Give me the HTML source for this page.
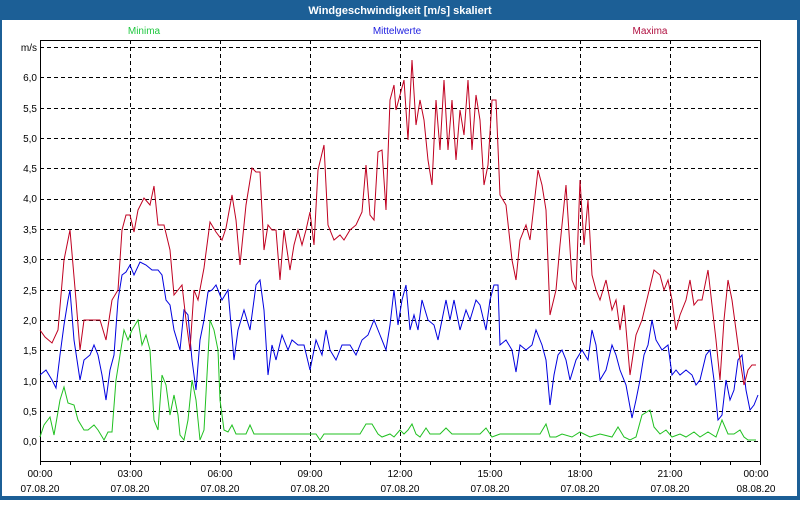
<!DOCTYPE html><html><head><style>body{margin:0;width:800px;height:500px;overflow:hidden;background:#fff;font-family:"Liberation Sans",sans-serif}</style></head><body>
<svg width="800" height="500" xmlns="http://www.w3.org/2000/svg" font-family="Liberation Sans, sans-serif">
<rect x="0" y="0" width="800" height="500" fill="#1c5f96"/>
<rect x="2" y="20" width="795" height="476" fill="#fff"/>
<text x="400" y="14" fill="#fff" font-size="11" font-weight="bold" text-anchor="middle">Windgeschwindigkeit [m/s] skaliert</text>
<text x="144" y="34" fill="#20c840" font-size="10" text-anchor="middle">Minima</text>
<text x="397" y="34" fill="#2020e0" font-size="10" text-anchor="middle">Mittelwerte</text>
<text x="650" y="34" fill="#b01040" font-size="10" text-anchor="middle">Maxima</text>
<g stroke="#000" stroke-width="1" stroke-dasharray="4,3" fill="none">
<path d="M40 47.5H760M40 77.5H760M40 108.5H760M40 138.5H760M40 168.5H760M40 199.5H760M40 229.5H760M40 259.5H760M40 290.5H760M40 320.5H760M40 350.5H760M40 381.5H760M40 411.5H760M40 441.5H760"/>
<path d="M130.5 40V461M220.5 40V461M310.5 40V461M400.5 40V461M490.5 40V461M580.5 40V461M670.5 40V461"/>
</g>
<path d="M40.5 40V461.5H760.5V40M40 40.5H760" stroke="#000" fill="none"/>
<path stroke="#000" d="M70.5 461v4M100.5 461v4M160.5 461v4M190.5 461v4M250.5 461v4M280.5 461v4M340.5 461v4M370.5 461v4M430.5 461v4M460.5 461v4M520.5 461v4M550.5 461v4M610.5 461v4M640.5 461v4M700.5 461v4M730.5 461v4M40.5 461v4M130.5 461v4M220.5 461v4M310.5 461v4M400.5 461v4M490.5 461v4M580.5 461v4M670.5 461v4M760.5 461v4"/>
<g font-size="10" fill="#000" text-anchor="end">
<text x="37" y="51">m/s</text><text x="37" y="81">6,0</text>
<text x="37" y="112">5,5</text><text x="37" y="142">5,0</text><text x="37" y="172">4,5</text><text x="37" y="202">4,0</text><text x="37" y="233">3,5</text><text x="37" y="263">3,0</text><text x="37" y="294">2,5</text><text x="37" y="324">2,0</text><text x="37" y="354">1,5</text><text x="37" y="385">1,0</text><text x="37" y="415">0,5</text><text x="37" y="445">0,0</text>
</g>
<g font-size="10" fill="#000" text-anchor="middle">
<text x="40" y="477">00:00</text><text x="40" y="492">07.08.20</text>
<text x="130" y="477">03:00</text><text x="130" y="492">07.08.20</text>
<text x="220" y="477">06:00</text><text x="220" y="492">07.08.20</text>
<text x="310" y="477">09:00</text><text x="310" y="492">07.08.20</text>
<text x="400" y="477">12:00</text><text x="400" y="492">07.08.20</text>
<text x="490" y="477">15:00</text><text x="490" y="492">07.08.20</text>
<text x="580" y="477">18:00</text><text x="580" y="492">07.08.20</text>
<text x="670" y="477">21:00</text><text x="670" y="492">07.08.20</text>
<text x="756" y="477">00:00</text><text x="756" y="492">08.08.20</text>
</g>
<polyline fill="none" stroke="#20c020" stroke-width="1" points="40,437 44,425 50,417 54,435 60,400 64,387 68,403 74,405 78,420 84,430 88,430 94,425 98,430 104,440 108,432 112,432 116,380 120,355 124,330 128,340 132,330 138,320 142,345 146,335 150,350 154,420 158,430 162,375 166,385 170,415 174,395 178,415 180,435 184,440 188,420 192,380 196,400 200,440 204,430 210,320 214,330 218,350 220,400 224,430 228,432 232,425 236,434 240,434 246,434 250,425 254,434 280,434 316,434 320,440 324,434 360,434 366,424 372,424 378,434 382,437 390,434 394,437 400,430 404,434 408,430 412,424 416,434 420,437 426,428 430,434 440,434 446,428 452,434 480,434 486,428 492,437 500,434 540,434 546,424 550,437 556,437 562,434 572,437 580,432 590,437 600,434 612,437 618,427 624,437 630,440 636,437 642,415 650,410 654,427 660,434 666,430 672,437 680,434 686,437 694,432 700,437 708,432 716,437 722,420 728,434 734,434 740,430 744,437 748,440 756,440"/>
<polyline fill="none" stroke="#0000e0" stroke-width="1" points="40,375 46,370 52,380 56,388 60,355 64,325 68,300 70,290 74,340 80,380 84,360 90,355 94,345 98,355 102,375 106,400 110,370 114,355 118,300 122,275 126,272 130,265 134,275 140,262 146,265 152,270 158,270 162,275 166,300 170,305 174,330 180,350 184,310 188,315 192,360 196,390 200,340 204,320 208,292 212,290 216,285 222,300 228,290 234,360 238,330 244,310 250,330 256,285 260,280 264,310 268,375 272,345 276,360 282,335 288,350 292,340 298,345 304,345 310,370 316,340 322,355 326,330 330,350 336,360 342,345 350,345 356,355 362,340 368,335 374,320 380,335 386,350 390,325 394,290 398,325 402,300 406,285 410,330 414,315 418,330 422,300 428,320 434,325 438,340 442,320 446,300 450,320 454,300 460,330 466,310 470,320 476,300 480,305 486,330 490,300 494,285 498,285 500,345 506,340 512,350 516,372 520,345 526,350 532,345 536,330 542,345 546,360 550,405 554,375 558,355 562,350 566,360 570,380 576,360 582,350 588,360 592,330 596,345 600,380 606,370 612,345 616,355 620,370 626,385 632,418 636,400 640,380 644,355 648,345 652,320 656,340 662,350 668,345 672,375 676,370 680,375 686,370 692,375 696,385 700,380 706,355 710,350 714,380 718,420 722,415 726,380 730,400 734,390 738,360 742,355 746,390 750,410 754,405 758,395"/>
<polyline fill="none" stroke="#c00020" stroke-width="1" points="40,330 45,337 52,343 58,330 64,260 70,230 76,300 80,350 84,320 90,320 100,320 106,340 112,300 118,290 122,230 126,215 130,215 134,232 138,210 144,198 150,205 154,186 158,225 164,225 170,250 174,295 178,290 182,285 186,320 190,350 194,290 198,300 204,268 210,222 216,232 222,240 226,228 232,195 236,220 240,265 246,205 252,168 256,172 260,172 264,250 268,225 272,230 276,230 280,280 284,230 290,270 294,245 298,230 302,245 306,230 310,212 314,245 318,170 324,145 328,225 334,240 340,235 344,240 350,230 356,225 362,212 366,165 370,215 374,220 378,152 382,150 386,210 390,100 394,85 396,110 400,95 404,80 408,140 412,60 416,125 420,100 424,120 428,160 432,185 436,100 440,150 444,80 448,150 452,100 456,160 460,110 464,135 468,80 472,150 476,95 480,120 484,185 488,165 492,100 496,100 500,195 506,205 512,260 516,280 520,240 526,225 530,240 534,205 538,170 542,185 546,210 550,315 556,290 560,245 566,185 572,280 576,290 580,180 584,245 588,200 592,275 596,290 600,300 606,280 612,310 616,300 620,330 624,305 630,375 636,335 642,320 648,295 654,270 660,275 664,290 668,280 672,300 676,330 680,315 686,300 690,280 694,305 698,300 702,300 708,270 712,305 716,340 720,380 724,320 728,280 732,300 736,330 740,360 744,385 748,370 752,365 756,365"/>
</svg>
</body></html>
